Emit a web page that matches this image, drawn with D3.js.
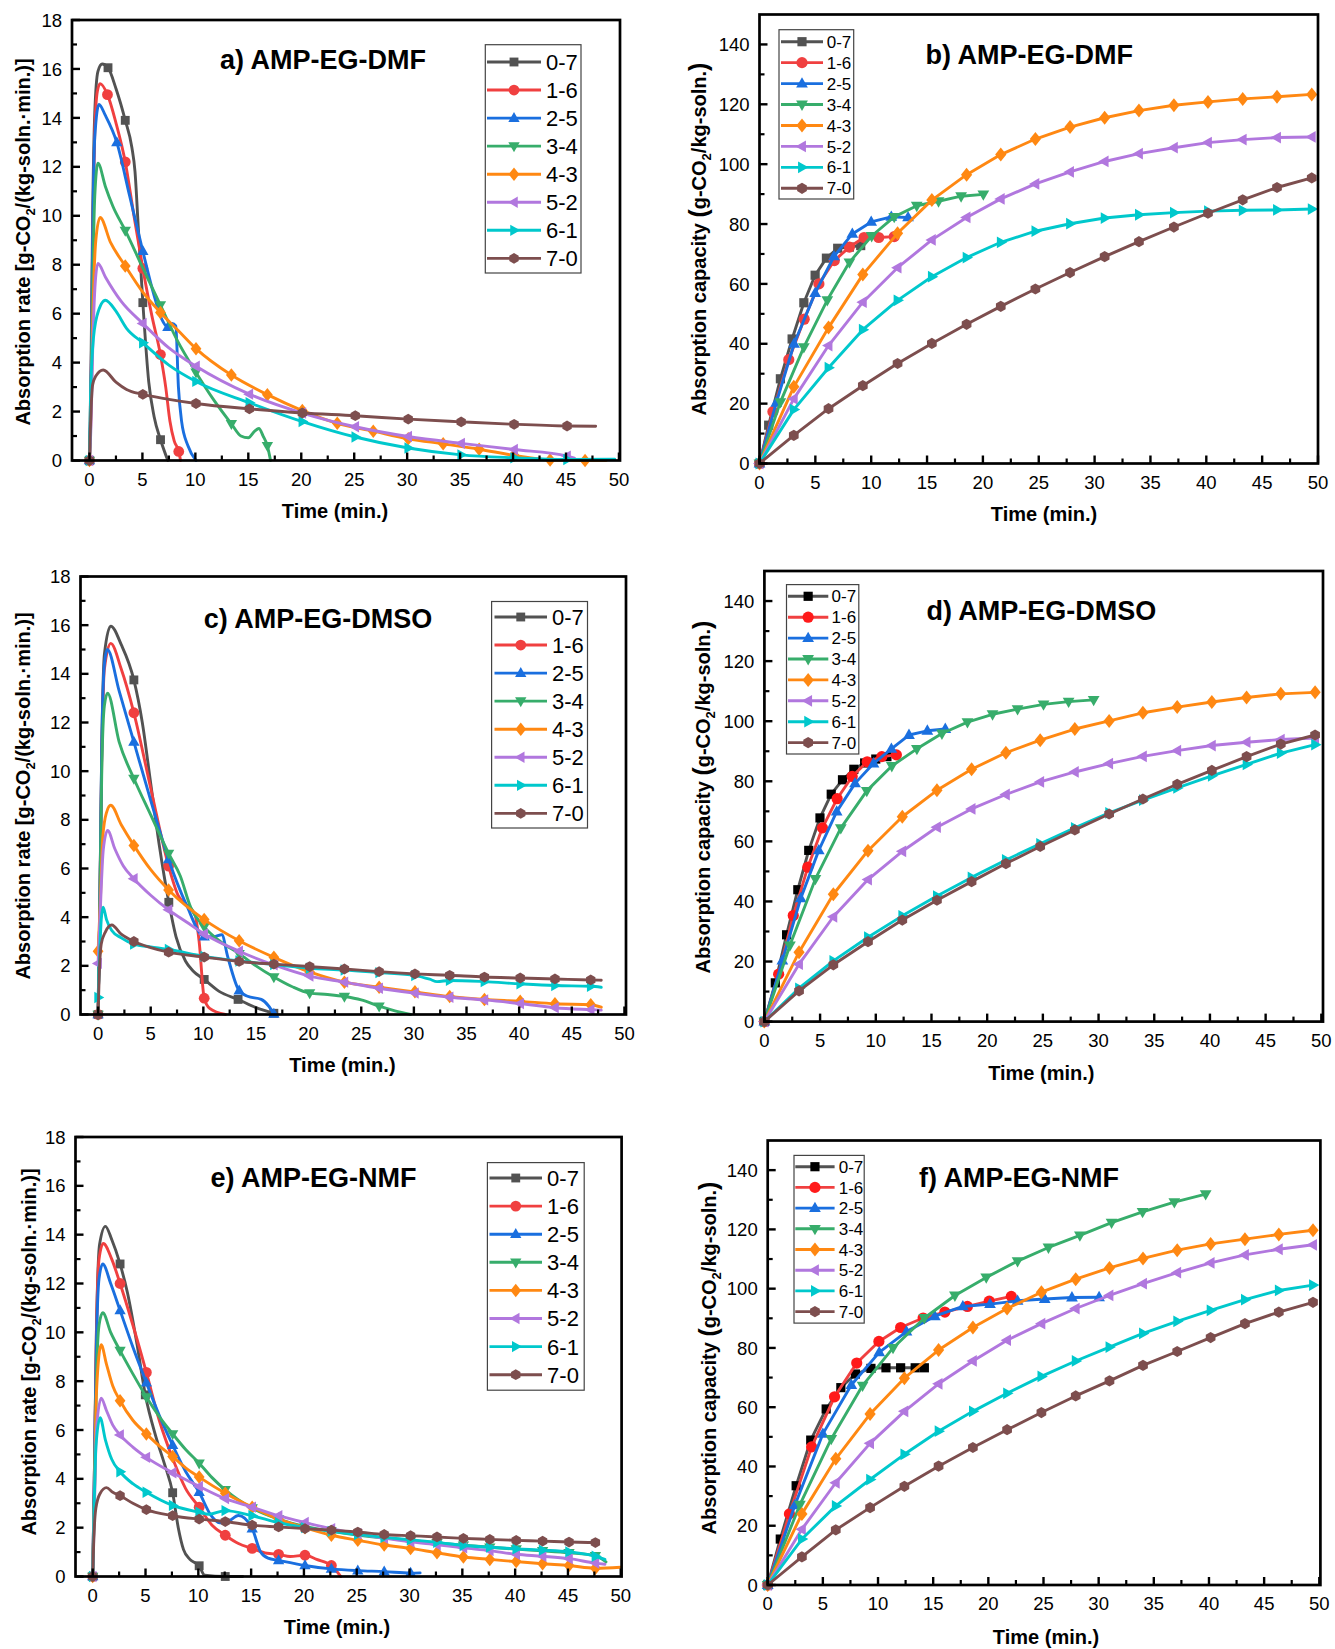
<!DOCTYPE html>
<html>
<head>
<meta charset="utf-8">
<script src="https://cdn.jsdelivr.net/npm/d3@7"></script>
<style>
  body { margin: 0; background: #fff; }
  svg text { font-family: 'Liberation Sans', Arial, Helvetica, sans-serif; }
</style>
</head>
<body>
<div id="chart"></div>
<script>
// series (EG-solvent ratio) shared by all six panels
const seriesNames = ['0-7', '1-6', '2-5', '3-4', '4-3', '5-2', '6-1', '7-0']

// rate panels: [time, rate, marker?]  (points without the flag only shape the spline)
const dmfRate = [
  [[0,0,1],[0.15,4],[0.3,10],[0.5,14.2],[0.8,15.9],[1.2,16.2],[1.75,16.05,1],[2.5,15.2],[3.38,13.9,1],[4.0,12.8],[4.3,11.8],[4.6,9.6],[5.04,6.45,1],[5.6,3.2],[6.1,1.8],[6.71,0.85,1],[7.4,0]],
  [[0,0,1],[0.15,3],[0.3,9],[0.5,13.5],[0.75,15.1],[1.0,15.4],[1.7,14.95,1],[2.5,13.8],[3.38,12.2,1],[4.2,10],[5.04,7.85,1],[5.9,5.9],[6.7,4.33,1],[7.2,3],[7.6,1.6],[8.0,0.8],[8.43,0.37,1],[8.6,0]],
  [[0,0,1],[0.15,3],[0.3,9],[0.5,13.2],[0.9,14.55],[1.5,14.1],[2.58,13.0,1],[3.8,10.8],[5.04,8.55,1],[6.0,6.9],[6.8,5.8],[7.4,5.45,1],[7.8,5.6],[8.15,5.5],[8.4,3.0],[8.7,1.6],[9.3,0.6],[10.06,0]],
  [[0,0,1],[0.15,2.5],[0.3,7],[0.5,10.8],[0.8,12.15],[1.5,11.2],[2.2,10.4],[3.38,9.4,1],[5.0,7.9],[6.7,6.35,1],[8.3,4.9],[10.06,3.6,1],[11.7,2.5],[13.4,1.5,1],[14.3,1.0],[15.0,0.93],[15.6,1.2],[16.0,1.31],[16.4,1.0],[16.8,0.6,1],[17.1,0]],
  [[0,0,1],[0.15,2],[0.3,5.5],[0.6,9.0],[1.0,9.93],[2.0,8.9],[3.38,7.95,1],[5.0,6.9],[6.7,6.05,1],[8.4,5.3],[10.06,4.57,1],[13.4,3.49,1],[16.8,2.69,1],[20.1,2.04,1],[23.4,1.52,1],[26.8,1.2,1],[30.1,0.89,1],[33.4,0.68,1],[36.8,0.46,1],[40.1,0.21,1],[43.5,0.02,1],[46.8,0,1],[48.8,0]],
  [[0,0,1],[0.15,1.5],[0.3,4.5],[0.55,7.3],[0.8,8.05],[1.5,7.5],[3.0,6.5],[5.04,5.6,1],[7.5,4.6],[10.06,3.85,1],[15.1,2.71,1],[20.1,1.94,1],[25.1,1.38,1],[30.1,0.98,1],[35.1,0.7,1],[40.1,0.45,1],[45.1,0.18,1],[45.8,0.1]],
  [[0,0,1],[0.1,2.5],[0.3,4.6],[0.7,5.9],[1.5,6.55],[2.5,6.1],[3.5,5.4],[5.04,4.81,1],[7.5,3.9],[10.06,3.23,1],[15.1,2.36,1],[20.1,1.59,1],[25.1,0.96,1],[30.1,0.51,1],[35.1,0.23,1],[40.1,0.11,1],[45.1,0.04,1],[49.6,0.05]],
  [[0,0,1],[0.1,1.5],[0.3,3.1],[0.6,3.45],[1.3,3.7],[2.5,3.2],[3.5,2.9],[5.04,2.7,1],[7.5,2.5],[10.06,2.33,1],[15.1,2.11,1],[20.1,1.94,1],[25.1,1.83,1],[30.1,1.69,1],[35.1,1.58,1],[40.1,1.48,1],[45.1,1.41,1],[47.8,1.4]],
]

const dmsoRate = [
  [[0,0,1],[0.15,4],[0.35,11],[0.6,14.8],[1.2,15.96],[2.2,15.2],[3.4,13.75,1],[4.2,12.0],[5.0,9.5],[5.8,7.0],[6.72,4.61,1],[7.4,3.2],[8.3,2.2],[9.0,1.8],[10.08,1.44,1],[11.5,0.95],[13.3,0.62,1],[15,0.28],[16.7,0.05,1]],
  [[0,0,1],[0.15,4],[0.35,10.5],[0.6,14.2],[1.2,15.25],[2.2,14.2],[3.4,12.4,1],[5.0,9.3],[6.7,6.1,1],[7.6,4.9],[8.4,4.5],[9.2,4.1],[9.6,3.0],[10.08,0.67,1],[10.6,0.25],[12.1,0]],
  [[0,0,1],[0.15,4],[0.35,11],[0.6,14.4],[0.88,15.0],[2.0,13.3],[3.4,11.2,1],[5.0,8.8],[6.7,6.37,1],[8.4,4.5],[10.08,3.2,1],[11.0,3.2],[11.76,3.28],[12.3,2.4],[13.4,0.98,1],[14.2,0.75],[15.5,0.62],[16.2,0.35],[16.7,0.02,1]],
  [[0,0,1],[0.15,4],[0.35,10],[0.6,12.7],[0.9,13.2],[2.0,11.2],[3.4,9.7,1],[5.0,8.2],[6.7,6.62,1],[7.8,5.7],[8.8,4.4],[10.08,3.6,1],[11.6,3.0],[13.4,2.5,1],[15.0,2.0],[16.7,1.54,1],[18.4,1.15],[20.1,0.88,1],[21.8,0.82],[23.4,0.74,1],[25,0.6],[26.7,0.34,1],[28.2,0.15],[29.7,0]],
  [[0,2.6,1],[0.2,4.5],[0.45,7.3],[0.8,8.3],[1.2,8.6],[2.2,7.8],[3.4,6.95,1],[5.0,5.95],[6.7,5.12,1],[8.4,4.45],[10.08,3.9,1],[13.4,3.03,1],[16.7,2.35,1],[20.1,1.75,1],[23.4,1.33,1],[26.7,1.12,1],[30.1,0.93,1],[33.4,0.74,1],[36.7,0.62,1],[40.1,0.54,1],[43.4,0.44,1],[46.8,0.4,1],[47.8,0.3]],
  [[0,2.1,1],[0.2,4.2],[0.5,6.8],[0.9,7.56],[1.6,6.8],[2.4,6.1],[3.4,5.58,1],[5.0,4.9],[6.7,4.3,1],[8.4,3.8],[10.08,3.31,1],[13.4,2.6,1],[16.7,2.04,1],[20.1,1.58,1],[23.4,1.33,1],[26.7,1.08,1],[30.1,0.88,1],[33.4,0.71,1],[36.7,0.6,1],[40.1,0.45,1],[43.4,0.28,1],[46.8,0.2,1],[47.8,0.18]],
  [[0,0.7,1],[0.15,2.5],[0.3,3.9],[0.48,4.41],[0.8,3.9],[1.3,3.45],[2.2,3.15],[3.4,2.89,1],[5,2.78],[6.7,2.67,1],[10.08,2.39,1],[13.4,2.2,1],[16.7,2.05,1],[20.1,1.9,1],[23.4,1.83,1],[26.7,1.72,1],[30.1,1.6,1],[31.5,1.45],[32.2,1.35],[33.4,1.4,1],[36.7,1.35,1],[40.1,1.26,1],[43.4,1.19,1],[46.8,1.16,1],[47.8,1.12]],
  [[0,0,1],[0.1,1.5],[0.3,2.9],[0.7,3.4],[1.3,3.68],[2.2,3.3],[3.4,3.0,1],[5.0,2.75],[6.7,2.56,1],[10.08,2.36,1],[13.4,2.18,1],[16.7,2.07,1],[20.1,1.97,1],[23.4,1.87,1],[26.7,1.76,1],[30.1,1.67,1],[33.4,1.61,1],[36.7,1.54,1],[40.1,1.5,1],[43.4,1.46,1],[46.8,1.42,1],[47.8,1.41]],
]

const nmfRate = [
  [[0,0,1],[0.15,4],[0.35,10],[0.65,13.6],[1.2,14.34],[1.8,13.8],[2.59,12.8,1],[3.3,11.6],[4.2,9.5],[4.98,7.44,1],[6.0,5.7],[6.8,4.6],[7.57,3.43,1],[8.1,2.0],[8.6,1.1],[9.2,0.7],[10.08,0.44,1],[10.6,0.05],[12.55,0,1],[14.2,0]],
  [[0,0,1],[0.15,4],[0.35,10],[0.6,13],[1.0,13.64],[1.8,13.0],[2.59,12.0,1],[3.8,10.3],[5.08,8.36,1],[6.3,6.4],[7.6,4.8],[8.8,3.6],[10.08,2.84,1],[11.3,2.1],[12.55,1.69,1],[13.8,1.35],[15.1,1.15,1],[16.5,0.95],[17.6,0.91,1],[18.7,0.82],[20.1,0.87,1],[21.2,0.7],[22.6,0.45,1],[23.5,0]],
  [[0,0,1],[0.15,4],[0.35,9.5],[0.6,12.2],[0.95,12.8],[1.7,12.0],[2.59,10.9,1],[3.8,9.4],[5.08,7.94,1],[6.3,6.6],[7.57,5.38,1],[8.8,4.3],[10.08,3.45,1],[11.2,2.5],[12.0,2.2],[12.8,2.25],[13.8,2.5],[15.1,1.96,1],[15.9,1.0],[16.6,0.75],[17.6,0.66,1],[20.1,0.45,1],[22.6,0.31,1],[25.1,0.24,1],[27.6,0.2,1],[30.1,0.14,1],[31.0,0.15]],
  [[0,0,1],[0.15,3],[0.35,8],[0.6,10.3],[0.95,10.8],[1.7,10.0],[2.59,9.25,1],[3.8,8.3],[5.08,7.35,1],[6.3,6.55],[7.57,5.84,1],[8.8,5.2],[10.08,4.64,1],[11.3,4.05],[12.55,3.55,1],[15.1,2.8,1],[17.6,2.35,1],[20.1,2.05,1],[22.6,1.85,1],[25.1,1.7,1],[27.6,1.58,1],[30.1,1.48,1],[32.6,1.38,1],[35.1,1.28,1],[37.6,1.2,1],[40.1,1.12,1],[42.6,1.05,1],[45.1,0.97,1],[47.6,0.85,1],[48.6,0.6]],
  [[0,0,1],[0.15,3],[0.35,7.5],[0.8,9.49],[1.3,8.7],[1.9,7.8],[2.59,7.2,1],[3.8,6.4],[5.08,5.84,1],[6.3,5.35],[7.57,4.91,1],[8.8,4.45],[10.08,4.07,1],[12.55,3.41,1],[15.1,2.84,1],[17.6,2.35,1],[20.1,2.0,1],[22.6,1.69,1],[25.1,1.48,1],[27.6,1.29,1],[30.1,1.15,1],[32.6,0.97,1],[35.1,0.8,1],[37.6,0.7,1],[40.1,0.61,1],[42.6,0.52,1],[45.1,0.45,1],[47.6,0.34,1],[50,0.38]],
  [[0,0,1],[0.15,2.5],[0.35,6],[0.8,7.3],[1.3,6.8],[1.9,6.2],[2.59,5.8,1],[3.8,5.3],[5.08,4.88,1],[7.57,4.25,1],[10.08,3.69,1],[12.55,3.19,1],[15.1,2.84,1],[17.6,2.49,1],[20.1,2.21,1],[22.6,1.96,1],[25.1,1.75,1],[27.6,1.57,1],[30.1,1.42,1],[32.6,1.3,1],[35.1,1.17,1],[37.6,1.06,1],[40.1,0.91,1],[42.6,0.83,1],[45.1,0.73,1],[47.6,0.55,1],[48.5,0.5]],
  [[0,0,1],[0.12,2.5],[0.3,5.3],[0.7,6.5],[1.2,5.6],[1.8,4.8],[2.59,4.29,1],[3.8,3.8],[5.08,3.45,1],[7.57,2.91,1],[10.08,2.63,1],[11.0,2.55],[12.55,2.7,1],[15.1,2.49,1],[17.6,2.2,1],[20.1,2.0,1],[22.6,1.85,1],[25.1,1.72,1],[27.6,1.6,1],[30.1,1.5,1],[32.6,1.4,1],[35.1,1.27,1],[37.6,1.2,1],[40.1,1.13,1],[42.6,1.08,1],[45.1,1.01,1],[47.6,0.83,1],[48.5,0.7]],
  [[0,0,1],[0.1,1.5],[0.3,2.8],[0.7,3.4],[1.3,3.64],[1.9,3.45],[2.59,3.31,1],[3.8,3.0],[5.08,2.74,1],[7.57,2.49,1],[10.08,2.35,1],[12.55,2.25,1],[15.1,2.1,1],[17.6,2.03,1],[20.1,1.96,1],[22.6,1.9,1],[25.1,1.82,1],[27.6,1.72,1],[30.1,1.67,1],[32.6,1.62,1],[35.1,1.56,1],[37.6,1.52,1],[40.1,1.48,1],[42.6,1.45,1],[45.1,1.41,1],[47.6,1.39,1]],
]

// capacity panels: [time, g-CO2/kg-soln]
const dmfCapacity = [
  [[0,0],[0.82,12.8],[1.87,28.3],[2.92,41.6],[3.97,53.7],[4.98,62.9],[5.99,68.6],[7.0,71.9],[8.05,72.3],[9.06,72.8]],
  [[0,0],[1.2,17.3],[2.62,34.7],[4.0,48.2],[5.32,60.0],[6.7,67.8],[8.05,72.3],[9.36,75.5],[10.67,75.5],[12.06,75.8]],
  [[0,0],[1.5,20.3],[3.1,40],[4.98,56.9],[6.67,69.2],[8.31,76.7],[10.0,80.7],[11.8,82.4],[13.3,82.2]],
  [[0,0],[1.87,20.5],[3.97,38.9],[6.07,54.6],[8.05,67.2],[10.04,76.0],[12.06,82.4],[14.08,86.1],[16.03,87.6],[18.05,89.3],[20.04,89.9]],
  [[0,0],[3.07,25.6],[6.18,45.4],[9.25,63.1],[12.36,76.9],[15.43,88.0],[18.54,96.5],[21.6,103.2],[24.7,108.4],[27.8,112.4],[30.9,115.5],[33.97,117.9],[37.1,119.7],[40.15,120.8],[43.26,121.8],[46.33,122.5],[49.44,123.3]],
  [[0,0],[3.07,21.6],[6.18,39.4],[9.25,53.9],[12.36,65.4],[15.43,74.7],[18.54,82.2],[21.6,88.4],[24.7,93.4],[27.8,97.4],[30.9,100.9],[33.97,103.5],[37.1,105.5],[40.15,107.2],[43.26,108.2],[46.33,108.9],[49.44,109.1]],
  [[0,0],[3.07,18.0],[6.18,32.0],[9.25,44.7],[12.36,54.5],[15.43,62.4],[18.54,68.8],[21.6,73.9],[24.7,77.6],[27.8,80.1],[30.9,82.0],[33.97,83.1],[37.1,83.8],[40.15,84.3],[43.26,84.6],[46.33,84.7],[49.44,85.0]],
  [[0,0],[3.07,9.4],[6.18,18.3],[9.25,26.0],[12.36,33.4],[15.43,40.1],[18.54,46.5],[21.6,52.5],[24.7,58.3],[27.8,63.8],[30.9,69.1],[33.97,74.1],[37.1,79.0],[40.15,83.6],[43.26,88.1],[46.33,92.2],[49.44,95.4]],
]

const dmsoCapacity = [
  [[0,0],[0.98,12.9],[1.99,28.9],[3.0,43.9],[3.98,57.0],[4.99,67.8],[6.0,75.7],[7.01,80.5],[8.03,84.0],[9.0,86.1],[10.0,87.4],[11.0,88.2]],
  [[0,0],[1.28,15.8],[2.59,35.3],[3.9,51.4],[5.21,64.5],[6.53,74.2],[7.88,81.6],[9.23,86.5],[10.54,88.2],[11.85,88.8]],
  [[0,0],[1.61,20.3],[3.26,41.0],[4.88,57.0],[6.49,69.9],[8.14,79.3],[9.79,85.9],[11.4,90.8],[12.98,95.4],[14.63,96.8],[16.24,97.4]],
  [[0,0],[2.29,25.4],[4.58,47.5],[6.86,64.4],[9.19,76.8],[11.44,85.1],[13.69,90.8],[15.94,95.9],[18.23,99.7],[20.48,102.3],[22.73,104.0],[25.06,105.6],[27.31,106.5],[29.56,107.1]],
  [[0,0],[3.11,23.1],[6.19,42.4],[9.3,56.9],[12.38,68.2],[15.49,77.0],[18.6,84.0],[21.68,89.5],[24.76,93.7],[27.87,97.4],[30.95,100.1],[33.98,102.8],[37.06,104.7],[40.17,106.4],[43.29,107.9],[46.36,109.1],[49.44,109.6]],
  [[0,0],[3.11,19.1],[6.19,34.9],[9.3,47.3],[12.38,56.7],[15.49,64.7],[18.6,70.8],[21.68,75.6],[24.76,79.8],[27.87,83.1],[30.95,85.9],[33.98,88.3],[37.06,90.2],[40.17,91.9],[43.29,93.0],[46.36,93.9],[49.44,94.4]],
  [[0,0],[3.11,11.1],[6.19,20.2],[9.3,28.1],[12.38,35.2],[15.49,41.8],[18.6,48.0],[21.68,53.8],[24.76,59.2],[27.87,64.5],[30.95,69.5],[33.98,73.7],[37.06,77.8],[40.17,81.8],[43.29,85.6],[46.36,89.4],[49.44,92.2]],
  [[0,0],[3.11,10.2],[6.19,18.9],[9.3,26.6],[12.38,33.8],[15.49,40.4],[18.6,46.6],[21.68,52.6],[24.76,58.3],[27.87,63.8],[30.95,69.1],[33.98,74.1],[37.06,79.0],[40.17,83.6],[43.29,88.2],[46.36,92.4],[49.44,95.4]],
]

const nmfCapacity = [
  [[0,0],[1.14,15.5],[2.58,33.5],[3.9,48.9],[5.3,59.4],[6.63,66.6],[7.95,71.2],[9.36,73.1],[10.72,73.3],[12.05,73.3],[13.37,73.3],[14.2,73.3]],
  [[0,0],[1.97,24.0],[3.98,46.6],[6.06,63.5],[8.07,74.9],[10.08,82.2],[12.05,86.9],[14.09,90.1],[16.06,92.1],[18.1,94.0],[20.08,95.8],[22.08,97.4]],
  [[0,0],[2.46,26.9],[5.0,51.0],[7.58,67.5],[10.11,78.5],[12.58,85.5],[15.15,90.7],[17.69,94.0],[20.15,94.8],[22.65,95.9],[25.11,96.5],[27.58,97.0],[30.04,97.1]],
  [[0,0],[2.92,27.1],[5.76,49.3],[8.6,67.3],[11.36,80.0],[14.2,90.1],[16.97,97.7],[19.81,103.8],[22.65,109.3],[25.45,113.9],[28.3,118.0],[31.17,122.3],[33.98,125.9],[36.86,129.2],[39.7,131.9]],
  [[0,0],[3.1,24.0],[6.17,42.6],[9.28,57.7],[12.39,69.8],[15.49,79.3],[18.6,86.9],[21.7,93.3],[24.81,98.8],[27.92,103.2],[30.98,107.0],[34.02,110.2],[37.12,113.0],[40.15,115.1],[43.26,116.7],[46.33,118.3],[49.43,119.7]],
  [[0,0],[3.1,18.8],[6.17,34.5],[9.28,47.8],[12.39,58.6],[15.49,67.9],[18.6,75.6],[21.7,82.6],[24.81,88.2],[27.92,93.3],[30.98,97.7],[34.02,101.7],[37.12,105.4],[40.15,108.7],[43.26,111.4],[46.33,113.3],[49.43,114.8]],
  [[0,0],[3.1,15.5],[6.17,26.7],[9.28,35.6],[12.39,44.1],[15.49,51.9],[18.6,58.6],[21.7,64.7],[24.81,70.4],[27.92,75.6],[30.98,80.3],[34.02,84.9],[37.12,89.0],[40.15,92.7],[43.26,96.3],[46.33,99.4],[49.43,101.2]],
  [[0,0],[3.1,9.5],[6.17,18.6],[9.28,26.1],[12.39,33.3],[15.49,40.1],[18.6,46.4],[21.7,52.4],[24.81,58.2],[27.92,63.8],[30.98,68.9],[34.02,74.1],[37.12,78.8],[40.15,83.5],[43.26,88.2],[46.33,92.1],[49.43,95.4]],
]

const timeTicks = d3.range(0, 51, 5)
const rateTicks = d3.range(0, 19, 2)
const capacityTicks = d3.range(0, 141, 20)

// styling
const lineColors = ['#525252', '#f04040', '#1a6fdf', '#37ad6b', '#ff8812', '#b177de', '#00c8cc', '#7d4e4e']
const shapes = ['square', 'circle', 'up', 'down', 'diamond', 'left', 'right', 'hexagon']

const panels = [
  { data: dmfRate, kind: 'rate', title: 'a) AMP-EG-DMF', darkMarks: false,
    l: 72, r: 620, t: 20, b: 460.5, xDomain: [-1.65, 50.1],
    titleX: 220, titleY: 69, xLabelX: 335, xLabelY: 518, yLabelX: 29.5, yLabelY: 242,
    legend: { x0: 485.3, x1: 581, y0: 44.7, y1: 273, row0: 62, step: 28.05, lx0: 487, lx1: 541, tx: 546, fs: 22 } },
  { data: dmfCapacity, kind: 'cap', title: 'b) AMP-EG-DMF', darkMarks: false,
    l: 759.5, r: 1318, t: 14.5, b: 463.5, xDomain: [0, 50],
    titleX: 925.6, titleY: 64, xLabelX: 1044, xLabelY: 520.5, yLabelX: 706, yLabelY: 239,
    legend: { x0: 779, x1: 853.7, y0: 29.7, y1: 199, row0: 41.7, step: 20.94, lx0: 781, lx1: 823, tx: 826.7, fs: 17 } },
  { data: dmsoRate, kind: 'rate', title: 'c) AMP-EG-DMSO', darkMarks: false,
    l: 80.5, r: 626, t: 576.5, b: 1014.5, xDomain: [-1.67, 50.15],
    titleX: 203.7, titleY: 628.3, xLabelX: 342.4, xLabelY: 1071.5, yLabelX: 30, yLabelY: 796,
    legend: { x0: 491.6, x1: 587.5, y0: 601.5, y1: 828, row0: 617, step: 28.05, lx0: 494.5, lx1: 547, tx: 552, fs: 22 } },
  { data: dmsoCapacity, kind: 'cap', title: 'd) AMP-EG-DMSO', darkMarks: true,
    l: 764.4, r: 1323, t: 571, b: 1021.6, xDomain: [0, 50.15],
    titleX: 926.4, titleY: 620.4, xLabelX: 1041.3, xLabelY: 1080, yLabelX: 710, yLabelY: 797,
    legend: { x0: 786.5, x1: 858.8, y0: 584.6, y1: 754, row0: 596.3, step: 20.9, lx0: 788, lx1: 828.3, tx: 831.6, fs: 17 } },
  { data: nmfRate, kind: 'rate', title: 'e) AMP-EG-NMF', darkMarks: false,
    l: 75.5, r: 621.6, t: 1137, b: 1576.5, xDomain: [-1.63, 50.08],
    titleX: 210.4, titleY: 1187.3, xLabelX: 337, xLabelY: 1634, yLabelX: 36, yLabelY: 1352,
    legend: { x0: 487.4, x1: 584.2, y0: 1162.6, y1: 1390.2, row0: 1178, step: 28.1, lx0: 489.5, lx1: 542, tx: 547.1, fs: 22 } },
  { data: nmfCapacity, kind: 'cap', title: 'f) AMP-EG-NMF', darkMarks: true,
    l: 767.7, r: 1320.4, t: 1140.5, b: 1585, xDomain: [0, 50.1],
    titleX: 919, titleY: 1187.3, xLabelX: 1046, xLabelY: 1644, yLabelX: 716, yLabelY: 1358,
    legend: { x0: 794, x1: 864.2, y0: 1155.4, y1: 1323.1, row0: 1166.7, step: 20.7, lx0: 795.3, lx1: 834.6, tx: 838.7, fs: 17 } },
]

function shapePath(shape, r) {
  const poly = pts => 'M' + pts.map(p => p.map(v => v.toFixed(2)).join(',')).join('L') + 'Z'
  switch (shape) {
    case 'square': { const s = r * 0.82; return poly([[-s, -s], [s, -s], [s, s], [-s, s]]) }
    case 'circle': return d3.symbol(d3.symbolCircle, Math.PI * r * r)()
    case 'up': return poly([[0, -r * 1.15], [r * 1.05, r * 0.7], [-r * 1.05, r * 0.7]])
    case 'down': return poly([[0, r * 1.15], [r * 1.05, -r * 0.7], [-r * 1.05, -r * 0.7]])
    case 'diamond': return poly([[0, -r * 1.25], [r, 0], [0, r * 1.25], [-r, 0]])
    case 'left': return poly([[-r * 1.15, 0], [r * 0.7, -r * 1.05], [r * 0.7, r * 1.05]])
    case 'right': return poly([[r * 1.15, 0], [-r * 0.7, -r * 1.05], [-r * 0.7, r * 1.05]])
    case 'hexagon': return poly(d3.range(6).map(k => {
      const a = Math.PI / 2 + k * Math.PI / 3
      return [Math.cos(a) * r, -Math.sin(a) * r]
    }))
  }
}

const svg = d3.select('#chart').append('svg')
  .attr('width', 1335).attr('height', 1649)
  .style('background', '#fff')

panels.forEach(p => {
  const isRate = p.kind === 'rate'
  const x = d3.scaleLinear().domain(p.xDomain).range([p.l, p.r])
  const y = d3.scaleLinear().domain(isRate ? [0, 18] : [0, 150]).range([p.b, p.t])
  const g = svg.append('g')
  const markR = isRate ? 5.4 : 5.6
  const markerColor = i => (p.darkMarks && i === 0) ? '#000' : (p.darkMarks && i === 1 ? '#ff1a1a' : lineColors[i])

  const line = d3.line()
    .x(d => x(d[0])).y(d => y(d[1]))
    .curve(isRate ? d3.curveMonotoneX : d3.curveLinear)

  // series lines + symbols
  p.data.forEach((pts, i) => {
    const sg = g.append('g')
    sg.append('path')
      .attr('d', line(pts))
      .attr('fill', 'none')
      .attr('stroke', lineColors[i])
      .attr('stroke-width', 2.9)
      .attr('stroke-linejoin', 'round')
      .attr('stroke-linecap', 'round')
    sg.selectAll('path.mk')
      .data(isRate ? pts.filter(d => d[2]) : pts)
      .join('path')
      .attr('class', 'mk')
      .attr('d', shapePath(shapes[i], markR))
      .attr('transform', d => `translate(${x(d[0])},${y(d[1])})`)
      .attr('fill', markerColor(i))
  })

  // frame
  g.append('rect')
    .attr('x', p.l).attr('y', p.t)
    .attr('width', p.r - p.l).attr('height', p.b - p.t)
    .attr('fill', 'none').attr('stroke', '#000').attr('stroke-width', 2.7)

  // x ticks (inward) + labels
  const xMinor = d3.range(2.5, 50, 5)
  g.selectAll('line.xt').data(timeTicks).join('line')
    .attr('x1', d => x(d)).attr('x2', d => x(d))
    .attr('y1', p.b).attr('y2', p.b - 8)
    .attr('stroke', '#000').attr('stroke-width', 2.4)
  g.selectAll('line.xm').data(xMinor).join('line')
    .attr('x1', d => x(d)).attr('x2', d => x(d))
    .attr('y1', p.b).attr('y2', p.b - 5)
    .attr('stroke', '#000').attr('stroke-width', 2.2)
  g.selectAll('text.xl').data(timeTicks).join('text')
    .attr('x', d => x(d)).attr('y', p.b + 25)
    .attr('text-anchor', 'middle').attr('font-size', 18.5)
    .text(d => d)

  // y ticks
  const yTicks = isRate ? rateTicks : capacityTicks
  const yMinor = isRate ? d3.range(1, 18, 2) : d3.range(10, 150, 20)
  g.selectAll('line.yt').data(yTicks).join('line')
    .attr('x1', p.l).attr('x2', p.l + 8)
    .attr('y1', d => y(d)).attr('y2', d => y(d))
    .attr('stroke', '#000').attr('stroke-width', 2.4)
  g.selectAll('line.ym').data(yMinor).join('line')
    .attr('x1', p.l).attr('x2', p.l + 5)
    .attr('y1', d => y(d)).attr('y2', d => y(d))
    .attr('stroke', '#000').attr('stroke-width', 2.2)
  g.selectAll('text.yl').data(yTicks).join('text')
    .attr('x', p.l - 10).attr('y', d => y(d))
    .attr('dy', '0.36em')
    .attr('text-anchor', 'end').attr('font-size', 18.5)
    .text(d => d)

  // axis titles
  g.append('text')
    .attr('x', p.xLabelX).attr('y', p.xLabelY)
    .attr('text-anchor', 'middle')
    .attr('font-size', 20).attr('font-weight', 'bold')
    .text('Time (min.)')

  const yl = g.append('text')
    .attr('transform', `translate(${p.yLabelX},${p.yLabelY}) rotate(-90)`)
    .attr('text-anchor', 'middle')
    .attr('font-size', 20).attr('font-weight', 'bold')
  if (isRate) {
    yl.append('tspan').text('Absorption rate [g-CO')
    yl.append('tspan').attr('font-size', 13).attr('dy', 5).text('2')
    yl.append('tspan').attr('dy', -5).text('/(kg-soln.\u00b7min.)]')
  } else {
    yl.append('tspan').text('Absorption capacity ')
    yl.append('tspan').attr('font-size', 25).attr('dy', 1).text('(')
    yl.append('tspan').attr('dy', -1).text('g-CO')
    yl.append('tspan').attr('font-size', 13).attr('dy', 5).text('2')
    yl.append('tspan').attr('dy', -5).text('/kg-soln.')
    yl.append('tspan').attr('font-size', 25).attr('dy', 1).text(')')
  }

  // panel title
  g.append('text')
    .attr('x', p.titleX).attr('y', p.titleY)
    .attr('font-size', 27).attr('font-weight', 'bold')
    .text(p.title)

  // legend
  const lg = p.legend
  g.append('rect')
    .attr('x', lg.x0).attr('y', lg.y0)
    .attr('width', lg.x1 - lg.x0).attr('height', lg.y1 - lg.y0)
    .attr('fill', '#fff').attr('stroke', '#444').attr('stroke-width', 1.2)
  seriesNames.forEach((name, i) => {
    const ry = lg.row0 + i * lg.step
    g.append('line')
      .attr('x1', lg.lx0).attr('x2', lg.lx1).attr('y1', ry).attr('y2', ry)
      .attr('stroke', lineColors[i]).attr('stroke-width', 2.9)
    g.append('path')
      .attr('d', shapePath(shapes[i], markR))
      .attr('transform', `translate(${(lg.lx0 + lg.lx1) / 2},${ry})`)
      .attr('fill', markerColor(i))
    g.append('text')
      .attr('x', lg.tx).attr('y', ry)
      .attr('dy', '0.36em')
      .attr('font-size', lg.fs)
      .text(name)
  })
})
</script>
</body>
</html>
